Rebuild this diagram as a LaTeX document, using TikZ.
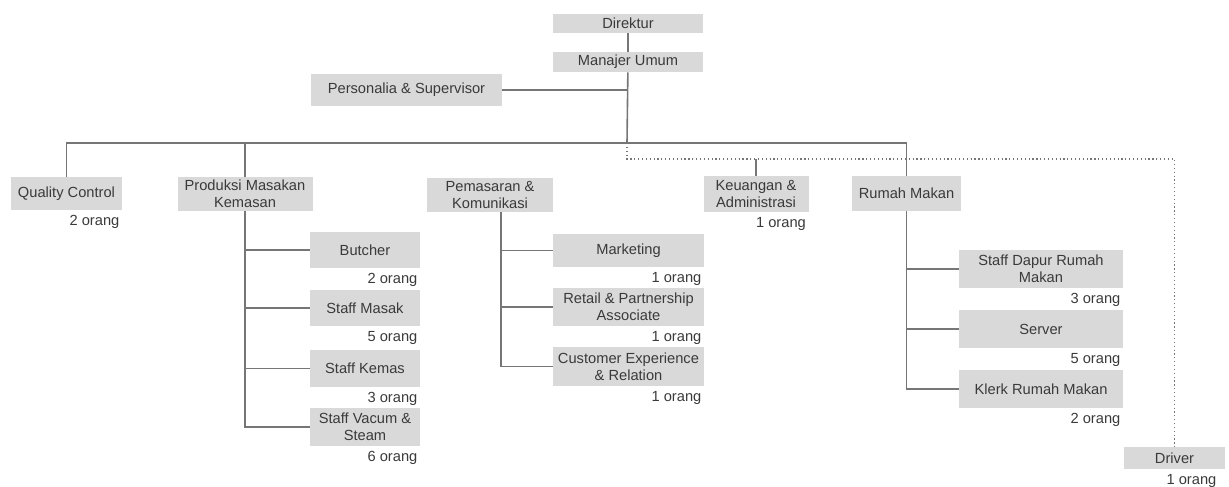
\documentclass[tikz,border=0pt]{standalone}
\usepackage{fontspec}
\setmainfont{Liberation Sans}
\usetikzlibrary{positioning}

\definecolor{kotakabu}{HTML}{D9D9D9}
\definecolor{garisabu}{HTML}{767676}
\definecolor{teksabu}{HTML}{3A3A3A}

\begin{document}
\begin{tikzpicture}[x=0.75pt,y=-0.75pt,
       jabatan/.style 2 args={fill=kotakabu,text=teksabu,font=\fontsize{11}{12.5}\selectfont,align=center,inner sep=0pt,minimum width=#1*0.75pt,minimum height=#2*0.75pt},
       orang/.style={text=teksabu,font=\fontsize{11}{12}\selectfont,anchor=north east,inner sep=2pt,yshift=-1.5pt},
       hubung/.style={draw=garisabu,line width=1.2pt},
       putus/.style={draw=garisabu,line width=0.9pt,dotted}]
       \useasboundingbox (0,0) rectangle (1229,486);
       % pimpinan
       \node[jabatan={150}{19}] (dir) at (628,23.5) {Direktur};
       \node[jabatan={150}{20}] (mu) at (628,62) {Manajer Umum};
       \node[jabatan={191}{32}] (ps) at (406.5,90) {Personalia \& Supervisor};
       \coordinate (jalurA) at (627,143);
       \coordinate (jalurB) at (627,159);
       % bagian
       \node[jabatan={111}{33}] (qc) at (66.5,193.5) {Quality Control};
       \node[jabatan={135}{34}] (pmk) at (245,194) {Produksi Masakan\\Kemasan};
       \node[jabatan={126}{34}] (pk) at (490,195) {Pemasaran \&\\Komunikasi};
       \node[jabatan={105}{36}] (ka) at (756,194) {Keuangan \&\\Administrasi};
       \node[jabatan={109}{35}] (rm) at (906.5,193.5) {Rumah Makan};
       \coordinate (pkbawah) at (501,212);
       % staf
       \node[jabatan={110}{36}] (butcher) at (365,250) {Butcher};
       \node[jabatan={110}{36}] (masak) at (365,308) {Staff Masak};
       \node[jabatan={110}{37}] (kemas) at (365,368.5) {Staff Kemas};
       \node[jabatan={110}{38}] (vacum) at (365,427) {Staff Vacum \&\\Steam};
       \node[jabatan={151}{33}] (mkt) at (628.5,250.5) {Marketing};
       \node[jabatan={151}{38}] (retail) at (628.5,307) {Retail \& Partnership\\Associate};
       \node[jabatan={151}{39}] (cx) at (628.5,366.5) {Customer Experience\\\& Relation};
       \node[jabatan={164}{38}] (dapur) at (1041,269) {Staff Dapur Rumah\\Makan};
       \node[jabatan={164}{38}] (server) at (1041,329) {Server};
       \node[jabatan={164}{38}] (klerk) at (1041,389) {Klerk Rumah Makan};
       \node[jabatan={101}{22}] (driver) at (1174.5,458) {Driver};
       % jumlah orang
       \node[orang] (qcn) at (qc.south east) {2 orang};
       \node[orang] (butchern) at (butcher.south east) {2 orang};
       \node[orang] (masakn) at (masak.south east) {5 orang};
       \node[orang] (kemasn) at (kemas.south east) {3 orang};
       \node[orang] (vacumn) at (vacum.south east) {6 orang};
       \node[orang] (mktn) at (mkt.south east) {1 orang};
       \node[orang] (retailn) at (retail.south east) {1 orang};
       \node[orang] (cxn) at (cx.south east) {1 orang};
       \node[orang] (kan) at (ka.south east) {1 orang};
       \node[orang] (dapurn) at (dapur.south east) {3 orang};
       \node[orang] (servern) at (server.south east) {5 orang};
       \node[orang] (klerkn) at (klerk.south east) {2 orang};
       \node[orang] (drivern) at ([xshift=-4.5pt]driver.south east) {1 orang};
       % garis
       \draw[hubung] (dir) -- (mu);
       \draw[hubung] (mu) -- (jalurA);
       \draw[hubung] (ps.east) -- (ps.east -| mu.south);
       \draw[hubung] (qc.north) |- (jalurA) -| (rm.north);
       \draw[hubung] (pmk.north) -- (pmk.north |- jalurA);
       \draw[putus] (jalurA) -- (jalurB) -| (driver.north);
       \draw[hubung] (ka.north) -- (ka.north |- jalurB);
       \draw[hubung] (pmk.south) |- (vacum.west);
       \foreach \n in {butcher,masak,kemas}
              \draw[hubung] (pmk.south |- \n.west) -- (\n.west);
       \draw[hubung] (pkbawah) |- (cx.west);
       \foreach \n in {mkt,retail}
              \draw[hubung] (pkbawah |- \n.west) -- (\n.west);
       \draw[hubung] (rm.south) |- (klerk.west);
       \foreach \n in {dapur,server}
              \draw[hubung] (rm.south |- \n.west) -- (\n.west);
\end{tikzpicture}
\end{document}
